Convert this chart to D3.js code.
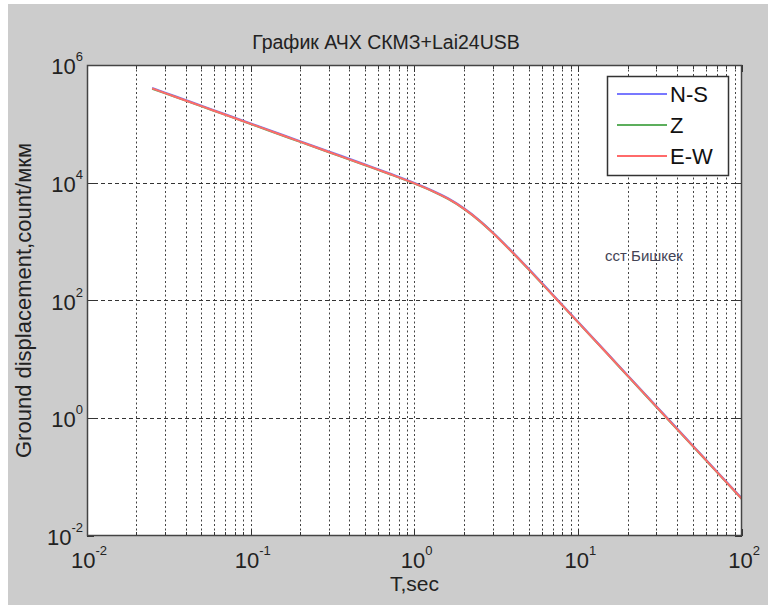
<!DOCTYPE html>
<html>
<head>
<meta charset="utf-8">
<script src="https://cdn.jsdelivr.net/npm/d3@7"></script>
<style>
  html, body { margin: 0; padding: 0; background: #fff; }
  svg { display: block; font-family: "Liberation Sans", Arial, sans-serif; }
</style>
</head>
<body>
<div class="chart"></div>
<script>
// periods (s) and displacement response
const periods = [0.025, 0.03, 0.04, 0.05, 0.07, 0.1, 0.15, 0.2, 0.3, 0.5, 0.7, 1.0, 1.3, 1.6,
  2.0, 2.5, 3, 4, 5, 7, 10, 15, 20, 30, 50, 70, 100];
const ns = [4.08e5, 3.40e5, 2.55e5, 2.04e5, 1.46e5, 1.02e5, 6.80e4, 5.10e4, 3.40e4, 2.04e4, 1.45e4,
  9.95e3, 7.29e3, 5.46e3, 3.71e3, 2.29e3, 1.45e3, 654, 342, 126, 43.3, 12.9, 5.41, 1.60, 0.347, 0.126, 0.0433];
const z = [3.96e5, 3.30e5, 2.48e5, 1.98e5, 1.42e5, 0.99e5, 6.60e4, 4.95e4, 3.30e4, 1.98e4, 1.41e4,
  9.65e3, 7.08e3, 5.30e3, 3.60e3, 2.23e3, 1.41e3, 635, 332, 122, 42.0, 12.5, 5.25, 1.55, 0.336, 0.123, 0.042];
const ew = [4.0e5, 3.33e5, 2.5e5, 2.0e5, 1.43e5, 1.0e5, 6.67e4, 5.0e4, 3.33e4, 2.0e4, 1.42e4,
  9.75e3, 7.15e3, 5.35e3, 3.64e3, 2.25e3, 1.42e3, 641, 335, 123, 42.4, 12.6, 5.3, 1.57, 0.34, 0.124, 0.0424];

const seriesNames = ["N-S", "Z", "E-W"];
const seriesColors = ["#7878ff", "#5cae5c", "#ff6a6a"];
const xTicks = [1e-2, 1e-1, 1e0, 1e1, 1e2];
const xExp = ["-2", "-1", "0", "1", "2"];
const yTicks = [1e-2, 1e0, 1e2, 1e4, 1e6];
const yExp = ["-2", "0", "2", "4", "6"];

const width = 768, height = 605;
const pLeft = 87, pRight = 742, pTop = 65, pBottom = 536;

const svg = d3.select(".chart").append("svg")
    .attr("width", width)
    .attr("height", height);

// grey figure background with thin white edge like the screenshot
svg.append("rect").attr("x", 8).attr("y", 4)
    .attr("width", width - 8).attr("height", height - 4)
    .attr("fill", "#cccccc");

const x = d3.scaleLog().domain([1e-2, 1e2]).range([pLeft, pRight]);
const y = d3.scaleLog().domain([1e-2, 1e6]).range([pBottom, pTop]);

svg.append("rect")
    .attr("x", pLeft).attr("y", pTop)
    .attr("width", pRight - pLeft).attr("height", pBottom - pTop)
    .attr("fill", "#fff");

svg.append("clipPath").attr("id", "plot")
  .append("rect")
    .attr("x", pLeft).attr("y", pTop)
    .attr("width", pRight - pLeft).attr("height", pBottom - pTop);

// minor + major vertical grid
const xGrid = [];
for (let e = -2; e < 2; e++) {
  for (let k = 1; k <= 9; k++) xGrid.push(k * Math.pow(10, e));
}
const grid = svg.append("g").attr("clip-path", "url(#plot)");
grid.selectAll("line.vx")
  .data(xGrid.filter(d => d > 1e-2))
  .enter().append("line")
    .attr("class", "vx")
    .attr("x1", d => Math.round(x(d)) + 0.5).attr("x2", d => Math.round(x(d)) + 0.5)
    .attr("y1", pTop).attr("y2", pBottom)
    .attr("stroke", "#444")
    .attr("stroke-width", 1)
    .attr("stroke-dasharray", "2,2.5");

grid.selectAll("line.hy")
  .data(yTicks.slice(1, -1))
  .enter().append("line")
    .attr("class", "hy")
    .attr("x1", pLeft).attr("x2", pRight)
    .attr("y1", d => Math.round(y(d)) + 0.5).attr("y2", d => Math.round(y(d)) + 0.5)
    .attr("stroke", "#333")
    .attr("stroke-width", 1)
    .attr("stroke-dasharray", "4,3");

// tick marks inside the box
const ticks = svg.append("g").attr("stroke", "#333").attr("stroke-width", 1);
xGrid.concat([100]).forEach(d => {
  const major = Math.abs(Math.log10(d) - Math.round(Math.log10(d))) < 1e-9;
  const len = major ? 7 : 4, px = Math.round(x(d)) + 0.5;
  ticks.append("line").attr("x1", px).attr("x2", px).attr("y1", pBottom).attr("y2", pBottom - len);
  ticks.append("line").attr("x1", px).attr("x2", px).attr("y1", pTop).attr("y2", pTop + len);
});
yTicks.forEach(d => {
  const py = Math.round(y(d)) + 0.5;
  ticks.append("line").attr("x1", pLeft).attr("x2", pLeft + 7).attr("y1", py).attr("y2", py);
  ticks.append("line").attr("x1", pRight).attr("x2", pRight - 7).attr("y1", py).attr("y2", py);
});

// curves
const line = d3.line()
    .x(d => x(d[0]))
    .y(d => y(d[1]))
    .curve(d3.curveMonotoneX);

[ns, z, ew].forEach((vals, i) => {
  svg.append("path")
    .datum(periods.map((p, j) => [p, vals[j]]))
    .attr("clip-path", "url(#plot)")
    .attr("fill", "none")
    .attr("stroke", seriesColors[i])
    .attr("stroke-width", 2)
    .attr("d", line);
});

// axes box
svg.append("rect")
    .attr("x", pLeft + 0.5).attr("y", pTop + 0.5)
    .attr("width", pRight - pLeft - 1).attr("height", pBottom - pTop - 1)
    .attr("fill", "none")
    .attr("stroke", "#444")
    .attr("stroke-width", 1.5);

// tick labels
const xl = svg.selectAll("text.xl")
  .data(xTicks)
  .enter().append("text")
    .attr("class", "xl")
    .attr("x", d => x(d) + 2)
    .attr("y", 568)
    .attr("text-anchor", "middle")
    .attr("fill", "#222")
    .style("font-size", "22px");
xl.append("tspan").text("10");
xl.append("tspan").attr("dy", -13).style("font-size", "13px").text((d, i) => xExp[i]);

const yl = svg.selectAll("text.yl")
  .data(yTicks)
  .enter().append("text")
    .attr("class", "yl")
    .attr("x", pLeft - 4)
    .attr("y", d => y(d) + 9)
    .attr("text-anchor", "end")
    .attr("fill", "#222")
    .style("font-size", "22px");
yl.append("tspan").text("10");
yl.append("tspan").attr("dy", -13).style("font-size", "13px").text((d, i) => yExp[i]);

// titles
svg.append("text")
    .attr("x", 386).attr("y", 49)
    .attr("text-anchor", "middle")
    .attr("fill", "#222")
    .style("font-size", "19.5px")
    .text("График АЧХ СКМЗ+Lai24USB");

svg.append("text")
    .attr("x", (pLeft + pRight) / 2).attr("y", 591)
    .attr("text-anchor", "middle")
    .attr("fill", "#222")
    .style("font-size", "21px")
    .text("T,sec");

svg.append("text")
    .attr("transform", `translate(31,${(pTop + pBottom) / 2}) rotate(-90)`)
    .attr("text-anchor", "middle")
    .attr("fill", "#222")
    .style("font-size", "22px")
    .text("Ground displacement,count/мкм");

svg.append("text")
    .attr("x", 605).attr("y", 261)
    .attr("fill", "#445")
    .style("font-size", "15px")
    .text("сст Бишкек");

// legend
const lg = svg.append("g").attr("transform", "translate(607,76)");
lg.append("rect")
    .attr("x", 0.5).attr("y", 0.5)
    .attr("width", 121).attr("height", 99)
    .attr("fill", "#fff")
    .attr("stroke", "#333")
    .attr("stroke-width", 1.5);
seriesNames.forEach((name, i) => {
  const ly = 18 + i * 31;
  lg.append("line")
      .attr("x1", 10).attr("x2", 60)
      .attr("y1", ly).attr("y2", ly)
      .attr("stroke", seriesColors[i])
      .attr("stroke-width", 2);
  lg.append("text")
      .attr("x", 63).attr("y", ly + 8)
      .attr("fill", "#111")
      .style("font-size", "22px")
      .text(name);
});
</script>
</body>
</html>
